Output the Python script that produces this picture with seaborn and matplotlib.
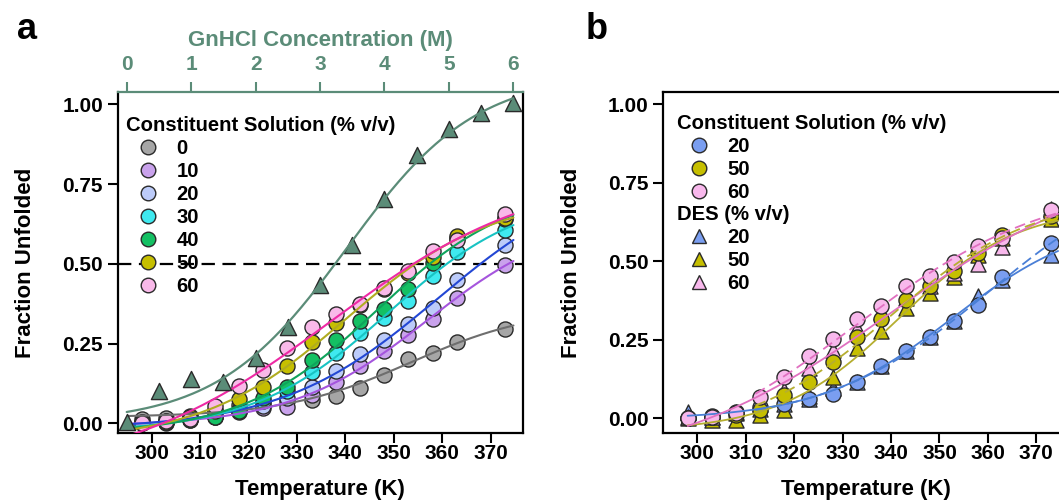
import numpy as np
import pandas as pd
import matplotlib
matplotlib.use("Agg")
import matplotlib.pyplot as plt
from matplotlib.lines import Line2D
import seaborn as sns

# ---------------- data ----------------
temps = [298, 303, 308, 313, 318, 323, 328, 333, 338, 343, 348, 353, 358, 363, 373]

# Panel a: constituent solution (% v/v), fraction unfolded vs temperature
frac_cs_0 = [0.014, 0.018, 0.022, 0.042, 0.056, 0.063, 0.071, 0.073, 0.087, 0.112, 0.152, 0.202, 0.221, 0.254, 0.296]
frac_cs_10 = [0.000, 0.005, 0.012, 0.020, 0.035, 0.047, 0.052, 0.090, 0.129, 0.181, 0.228, 0.277, 0.326, 0.393, 0.497]
frac_cs_20 = [0.005, 0.008, 0.015, 0.025, 0.040, 0.055, 0.080, 0.113, 0.165, 0.216, 0.262, 0.310, 0.362, 0.448, 0.558]
frac_cs_30 = [0.000, 0.002, 0.010, 0.020, 0.042, 0.070, 0.100, 0.160, 0.220, 0.283, 0.331, 0.383, 0.461, 0.537, 0.607]
frac_cs_40 = [0.005, 0.003, 0.010, 0.019, 0.038, 0.080, 0.113, 0.199, 0.260, 0.320, 0.359, 0.422, 0.503, 0.580, 0.640]
frac_cs_50 = [0.000, 0.005, 0.020, 0.040, 0.076, 0.113, 0.181, 0.254, 0.314, 0.370, 0.420, 0.470, 0.521, 0.586, 0.645]
frac_cs_60 = [0.000, 0.008, 0.012, 0.055, 0.118, 0.167, 0.237, 0.302, 0.343, 0.375, 0.425, 0.477, 0.540, 0.574, 0.655]

# Panel a: GnHCl denaturation (top axis)
gnhcl_conc = [0.0, 0.5, 1.0, 1.5, 2.0, 2.5, 3.0, 3.5, 4.0, 4.5, 5.0, 5.5, 6.0]
gnhcl_frac = [0.004, 0.100, 0.140, 0.129, 0.205, 0.302, 0.433, 0.558, 0.704, 0.840, 0.922, 0.974, 1.003]

# Panel b: constituent solution (circles) and DES (triangles)
frac_b_cs_20 = [0.000, 0.007, 0.021, 0.035, 0.045, 0.062, 0.076, 0.115, 0.166, 0.213, 0.260, 0.310, 0.361, 0.449, 0.557]
frac_b_cs_50 = [0.000, 0.003, 0.011, 0.027, 0.073, 0.114, 0.180, 0.259, 0.317, 0.377, 0.420, 0.468, 0.525, 0.585, 0.645]
frac_b_cs_60 = [0.000, 0.005, 0.016, 0.069, 0.131, 0.199, 0.253, 0.316, 0.356, 0.420, 0.453, 0.499, 0.550, 0.575, 0.663]
frac_b_des_20 = [0.020, 0.005, 0.016, 0.030, 0.045, 0.060, 0.095, 0.117, 0.168, 0.215, 0.260, 0.310, 0.388, 0.440, 0.520]
frac_b_des_50 = [0.000, -0.004, -0.004, 0.011, 0.027, 0.070, 0.133, 0.223, 0.279, 0.352, 0.398, 0.450, 0.520, 0.575, 0.635]
frac_b_des_60 = [0.005, 0.005, 0.020, 0.045, 0.090, 0.159, 0.218, 0.287, 0.340, 0.382, 0.420, 0.462, 0.490, 0.545, 0.668]

levels_a = ["0", "10", "20", "30", "40", "50", "60"]
levels_b = ["20", "50", "60"]

# ---------------- styles ----------------
fill_a = ["#a6a6a6", "#c9a2ec", "#bccbf9", "#3fe9ef", "#14c063", "#c6bf00", "#f9b9e9"]
line_a = ["#6e6e6e", "#a555dd", "#2347d4", "#18c3c3", "#0fa35c", "#b0ac20", "#ee2aa5"]
fill_b = ["#7a9ef0", "#c6bf00", "#f8b8ec"]
line_b = ["#4a7fd6", "#b5ae30", "#e070c0"]
green = "#5b8c78"
edge = "#2a2a2a"

sns.set_theme(style="ticks")
plt.rcParams["font.family"] = ["Liberation Sans", "DejaVu Sans"]
plt.rcParams["font.weight"] = "bold"
plt.rcParams["axes.labelweight"] = "bold"
plt.rcParams["text.color"] = "black"
plt.rcParams["axes.labelcolor"] = "black"
plt.rcParams["xtick.color"] = "black"
plt.rcParams["ytick.color"] = "black"


def boltzmann_fit(x, y, x_eval, baseline=None):
    """Least-squares sigmoid y = c + A / (1 + exp(-(x - x0) / w))."""
    x = np.asarray(x, float)
    y = np.asarray(y, float)
    span = x.max() - x.min()
    centers = np.linspace(x.min() - 0.2 * span, x.max() + 0.8 * span, 360)
    widths = np.linspace(span * 0.02, span * 0.6, 300)
    z = (x[None, None, :] - centers[:, None, None]) / widths[None, :, None]
    s = 1.0 / (1.0 + np.exp(-z))
    if baseline is None:
        sm = s.mean(-1)
        ds = s - sm[..., None]
        dy = y - y.mean()
        A = (ds * dy).sum(-1) / np.maximum((ds * ds).sum(-1), 1e-12)
        c = y.mean() - A * sm
    else:
        c = np.full(s.shape[:2], float(baseline))
        A = (s * (y - baseline)).sum(-1) / np.maximum((s * s).sum(-1), 1e-12)
    sse = ((c[..., None] + A[..., None] * s - y) ** 2).sum(-1)
    i, j = np.unravel_index(np.argmin(sse), sse.shape)
    return c[i, j] + A[i, j] / (1.0 + np.exp(-(np.asarray(x_eval) - centers[i]) / widths[j]))


W, H = 1059, 501
fig = plt.figure(figsize=(W / 100, H / 100), dpi=100)


def rect(left, top, right, bottom):
    return [left / W, 1 - bottom / H, (right - left) / W, (bottom - top) / H]


ax_a = fig.add_axes(rect(117.7, 91.8, 523.0, 433.3))
ax_b = fig.add_axes(rect(663.3, 92.3, 1068.6, 433.3))

TICK_FS = 15
LABEL_FS = 16
LEG_FS = 14.6

for ax in (ax_a, ax_b):
    ax.set_xlim(292.98, 376.67)
    ax.set_xticks(range(300, 371, 10))
    ax.set_yticks([0, 0.25, 0.5, 0.75, 1.0])
    ax.set_yticklabels(["0.00", "0.25", "0.50", "0.75", "1.00"])
    ax.tick_params(axis="both", direction="out", length=7, width=1.5, labelsize=TICK_FS,
                   colors="black")
    ax.tick_params(axis="x", pad=0.5)
    ax.tick_params(axis="y", pad=3.5)
    for sp in ax.spines.values():
        sp.set_linewidth(1.6)
        sp.set_color("black")
    ax.set_xlabel("Temperature (K)", fontsize=LABEL_FS, fontweight="bold", labelpad=12,
                  color="black")
    ax.set_ylabel("Fraction Unfolded", fontsize=LABEL_FS, fontweight="bold", labelpad=19,
                  color="black")
    for t in ax.get_xticklabels() + ax.get_yticklabels():
        t.set_fontweight("bold")

ax_a.set_ylim(-0.0313, 1.039)
ax_b.set_ylim(-0.0478, 1.038)

# ---------------- panel a ----------------
t_fit_a = np.linspace(295.0, 374.7, 300)
frames_a = [frac_cs_0, frac_cs_10, frac_cs_20, frac_cs_30, frac_cs_40, frac_cs_50, frac_cs_60]
ax_a.axhline(0.5, color="black", lw=1.6, dashes=(6.0, 3.4), zorder=1.5)
for vals, fc, lc in zip(frames_a, fill_a, line_a):
    sns.scatterplot(x=temps, y=vals, ax=ax_a, s=118, color=fc, edgecolor=edge,
                    linewidth=1.0, marker="o", legend=False, zorder=3, clip_on=False)
for vals, fc, lc in zip(frames_a, fill_a, line_a):
    sns.lineplot(x=t_fit_a, y=boltzmann_fit(temps, vals, t_fit_a), ax=ax_a, color=lc,
                 lw=1.5, estimator=None, sort=False, legend=False, zorder=4)

ax_top = ax_a.twiny()
ax_top.set_xlim(-0.14, 6.15)
ax_top.set_xticks(range(0, 7))
ax_top.tick_params(axis="x", direction="out", length=7, width=1.5, colors=green,
                   labelsize=TICK_FS, pad=6)
for t in ax_top.get_xticklabels():
    t.set_fontweight("bold")
for name, sp in ax_top.spines.items():
    sp.set_visible(name == "top")
ax_top.spines["top"].set_color(green)
ax_top.spines["top"].set_linewidth(1.6)
ax_a.spines["top"].set_visible(False)
ax_top.set_xlabel("GnHCl Concentration (M)", color=green, fontsize=LABEL_FS,
                  fontweight="bold", labelpad=6)
c_fit = np.linspace(0.0, 6.0, 200)
sns.scatterplot(x=gnhcl_conc, y=gnhcl_frac, ax=ax_top, s=135, color=green, edgecolor=edge,
                linewidth=1.0, marker="^", legend=False, zorder=3, clip_on=False)
sns.lineplot(x=c_fit, y=boltzmann_fit(gnhcl_conc, gnhcl_frac, c_fit, baseline=0.0), ax=ax_top,
             color=green, lw=1.6, estimator=None, sort=False, legend=False, zorder=4)
ax_top.set_ylim(ax_a.get_ylim())
ax_a.tick_params(axis="x", top=False)


def handle(marker, fc):
    return Line2D([], [], ls="none", marker=marker, markersize=10.5, markerfacecolor=fc,
                  markeredgecolor=edge, markeredgewidth=1.0)


leg_kw = dict(frameon=False, loc="upper left", borderpad=0, borderaxespad=0,
              handlelength=2.2, handletextpad=0.3, labelspacing=0.195,
              prop={"weight": "bold", "size": LEG_FS},
              title_fontproperties={"weight": "bold", "size": LEG_FS}, alignment="left",
              labelcolor="black")

leg_a = ax_top.legend([handle("o", c) for c in fill_a], levels_a,
                      title="Constituent Solution (% v/v)", bbox_to_anchor=(0.0205, 0.929),
                      **leg_kw)

# ---------------- panel b ----------------
t_fit_b = np.linspace(298.0, 374.5, 300)
t_fit_b_dash = np.linspace(312.0, 374.5, 300)
des_sets = [frac_b_des_20, frac_b_des_50, frac_b_des_60]
cs_sets = [frac_b_cs_20, frac_b_cs_50, frac_b_cs_60]
for vals, fc in zip(des_sets, fill_b):
    sns.scatterplot(x=temps, y=vals, ax=ax_b, s=118, color=fc, edgecolor=edge,
                    linewidth=1.0, marker="^", legend=False, zorder=3, clip_on=False)
for vals, fc in zip(cs_sets, fill_b):
    sns.scatterplot(x=temps, y=vals, ax=ax_b, s=118, color=fc, edgecolor=edge,
                    linewidth=1.0, marker="o", legend=False, zorder=3, clip_on=False)
for vals, lc in zip(des_sets, line_b):
    sns.lineplot(x=t_fit_b, y=boltzmann_fit(temps, vals, t_fit_b), ax=ax_b, color=lc,
                 lw=1.3, estimator=None, sort=False, legend=False, zorder=4)
for vals, lc in zip(cs_sets, line_b):
    sns.lineplot(x=t_fit_b_dash, y=boltzmann_fit(temps, vals, t_fit_b_dash), ax=ax_b, color=lc,
                 lw=1.3, estimator=None, sort=False, legend=False, zorder=4,
                 dashes=False, linestyle=(0, (6, 3)))

leg_b1 = ax_b.legend([handle("o", c) for c in fill_b], levels_b,
                     title="Constituent Solution (% v/v)", bbox_to_anchor=(0.0338, 0.937),
                     **leg_kw)
ax_b.add_artist(leg_b1)
leg_b2 = ax_b.legend([handle("^", c) for c in fill_b], levels_b,
                     title="DES (% v/v)", bbox_to_anchor=(0.0338, 0.67), **leg_kw)

# panel letters
fig.text(27.5 / W, 1 - 39 / H, "a", fontsize=26, fontweight="bold", ha="center", va="baseline")
fig.text(597 / W, 1 - 39 / H, "b", fontsize=26, fontweight="bold", ha="center", va="baseline")

fig.savefig("out.png", dpi=100)
